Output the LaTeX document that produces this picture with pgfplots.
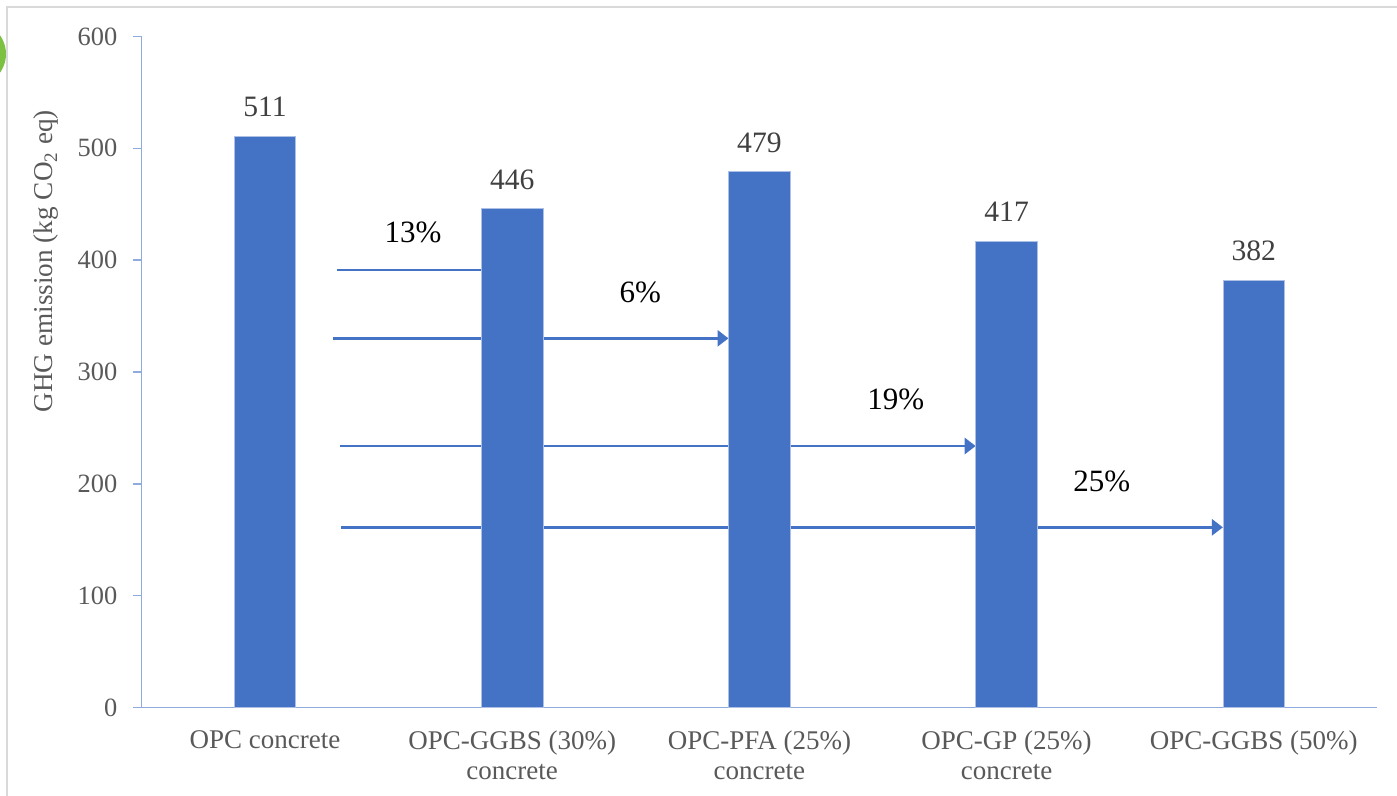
\documentclass[border=0pt]{standalone}
\usepackage{fontspec}
\setmainfont{Liberation Serif}
\usepackage{pgfplots}
\pgfplotsset{compat=1.18}
\usetikzlibrary{arrows.meta}

\definecolor{barblue}{HTML}{4472C4}
\definecolor{axisblue}{HTML}{8FAADC}
\definecolor{ticktext}{HTML}{595959}
\definecolor{valtext}{HTML}{404040}
\definecolor{framegray}{HTML}{D9D9D9}
\definecolor{leafgreen}{HTML}{7DC142}

\begin{document}
\begin{tikzpicture}
  % page extent and outer frame
  \useasboundingbox (0,0) rectangle (698.5pt,398pt);
  \begin{scope}
    \clip (0,0) rectangle (698.5pt,398pt);
    \fill[leafgreen] (-13pt,371pt) circle (16pt);
  \end{scope}
  \draw[framegray, line width=1pt] (3.5pt,0) -- (3.5pt,394.5pt) -- (698.5pt,394.5pt);

  \begin{axis}[
    at={(70.7pt,44.25pt)}, anchor=south west,
    scale only axis,
    width=618pt, height=335.5pt,
    xmin=-0.5, xmax=4.5,
    ymin=0, ymax=600,
    axis x line*=bottom, axis y line*=left,
    axis line style={axisblue, line width=0.8pt},
    xtick={0,1,2,3,4},
    xticklabels={OPC concrete,
                 {OPC-GGBS (30\%)\\concrete},
                 {OPC-PFA (25\%)\\concrete},
                 {OPC-GP (25\%)\\concrete},
                 OPC-GGBS (50\%)},
    xtick style={draw=none},
    ytick={0,100,...,600},
    tick align=outside,
    major tick length=4pt,
    ytick style={axisblue, line width=0.8pt},
    /pgf/number format/assume math mode=true,
    tick label style={color=ticktext},
    yticklabel style={font=\fontsize{13.2}{14}\selectfont, xshift=-4.5pt},
    xticklabel style={font=\fontsize{13.5}{15.2}\selectfont, align=center,
      yshift=-4pt},
    ylabel={GHG emission (kg CO\textsubscript{2} eq)},
    every axis y label/.style={at={(axis description cs:-0.077,0.665)},
      rotate=90, anchor=center, color=ticktext,
      font=\fontsize{13.6}{15}\selectfont},
    clip=false,
  ]
    % reduction arrows, drawn beneath the bars
    \addplot[barblue, line width=1.4pt, mark=none]
      coordinates {(0.291,391.2) (1.0,391.2)};
    \addplot[barblue, line width=1.4pt, mark=none,
      -{Triangle[length=5.5pt,width=8pt]}]
      coordinates {(0.275,330.1) (1.875,330.1)};
    \addplot[barblue, line width=1.4pt, mark=none,
      -{Triangle[length=5.5pt,width=8pt]}]
      coordinates {(0.304,233.8) (2.875,233.8)};
    \addplot[barblue, line width=1.4pt, mark=none,
      -{Triangle[length=5.5pt,width=8pt]}]
      coordinates {(0.308,161.1) (3.875,161.1)};

    % emissions per mix
    \addplot[ybar, bar width=30.8pt, fill=barblue,
      draw=barblue!45!white, line width=0.5pt,
      nodes near coords,
      every node near coord/.append style={anchor=center, yshift=14.5pt,
        color=valtext, font=\fontsize{14.8}{16}\selectfont}]
      coordinates {(0,511) (1,446) (2,479) (3,417) (4,382)};

    % reduction relative to OPC concrete
    \node[font=\fontsize{15.5}{17}\selectfont] at (axis cs:0.599,425.2) {13\%};
    \node[font=\fontsize{15.5}{17}\selectfont] at (axis cs:1.518,371.1) {6\%};
    \node[font=\fontsize{15.5}{17}\selectfont] at (axis cs:2.552,275.9) {19\%};
    \node[font=\fontsize{15.5}{17}\selectfont] at (axis cs:3.385,202.5) {25\%};
  \end{axis}
\end{tikzpicture}
\end{document}
